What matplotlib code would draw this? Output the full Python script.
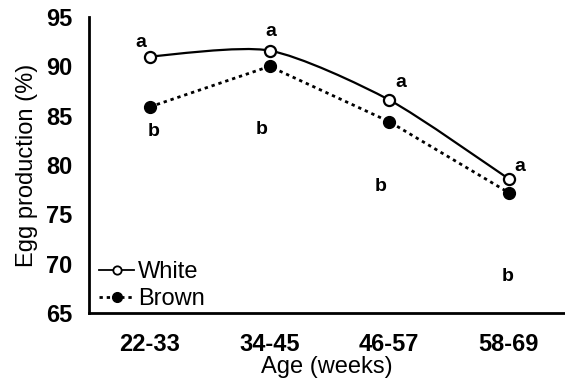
import matplotlib.pyplot as plt
from matplotlib.path import Path
from matplotlib.patches import PathPatch
from matplotlib.lines import Line2D

plt.rcParams['font.family'] = ['Liberation Sans', 'DejaVu Sans']

ages = ["22-33", "34-45", "46-57", "58-69"]
white = [91.0, 91.6, 86.6, 78.6]
brown = [85.9, 90.0, 84.4, 77.2]
# significance letters: x offset from category, y position, letter
white_dx = [-0.075, 0.01, 0.1, 0.09]
white_ly = [92.4, 93.5, 88.4, 79.9]
brown_dx = [0.03, -0.07, -0.07, -0.01]
brown_ly = [83.4, 83.6, 77.8, 68.7]

x = list(range(len(ages)))

fig = plt.figure(figsize=(5.65, 3.87), dpi=100)
ax = fig.add_axes([0.1575, 0.191, 0.8425, 0.765])

# smoothed line for White (spreadsheet-style Bezier through the points)
k = 1 / 8
verts = [(x[0], white[0])]
codes = [Path.MOVETO]
n = len(x)
for i in range(n - 1):
    p0 = (x[max(i - 1, 0)], white[max(i - 1, 0)])
    p1 = (x[i], white[i])
    p2 = (x[i + 1], white[i + 1])
    p3 = (x[min(i + 2, n - 1)], white[min(i + 2, n - 1)])
    c1 = (p1[0] + (p2[0] - p0[0]) * k, p1[1] + (p2[1] - p0[1]) * k)
    c2 = (p2[0] - (p3[0] - p1[0]) * k, p2[1] - (p3[1] - p1[1]) * k)
    verts += [c1, c2, p2]
    codes += [Path.CURVE4] * 3
ax.add_patch(PathPatch(Path(verts, codes), fill=False, edgecolor='black', lw=1.6))

ax.plot(x, brown, color='black', lw=2, linestyle=(0, (1.2, 1.4)))
ax.plot(x, white, linestyle='none', marker='o', markersize=8,
        markerfacecolor='white', markeredgecolor='black', markeredgewidth=1.6)
ax.plot(x, brown, linestyle='none', marker='o', markersize=8.5,
        markerfacecolor='black', markeredgecolor='black')

for i in x:
    ax.text(i + white_dx[i], white_ly[i], "a", ha='center', va='center',
            fontsize=14, fontweight='bold')
    ax.text(i + brown_dx[i], brown_ly[i], "b", ha='center', va='center',
            fontsize=14, fontweight='bold')

ax.set_xlim(-0.51, 3.47)
ax.set_ylim(65, 95)
ax.set_yticks([65, 70, 75, 80, 85, 90, 95])
ax.set_xticks(x)
ax.set_xticklabels(ages)
ax.tick_params(axis='x', length=0, labelsize=17, pad=14)
ax.tick_params(axis='y', length=0, labelsize=17, pad=12)
for lab in ax.get_xticklabels() + ax.get_yticklabels():
    lab.set_fontweight('bold')

ax.spines['top'].set_visible(False)
ax.spines['right'].set_visible(False)
ax.spines['left'].set_linewidth(2)
ax.spines['bottom'].set_linewidth(2)

ax.set_xlabel("Age (weeks)", fontsize=17, labelpad=0)
ax.set_ylabel("Egg production (%)", fontsize=17, labelpad=6)

handles = [
    Line2D([], [], color='black', lw=1.3, marker='o', markersize=6,
           markerfacecolor='white', markeredgecolor='black', markeredgewidth=1.3),
    Line2D([], [], color='black', lw=2, linestyle=(0, (1.2, 1.4)), marker='o',
           markersize=7, markerfacecolor='black'),
]
ax.legend(handles, ["White", "Brown"], loc='lower left', bbox_to_anchor=(0.012, -0.005),
          frameon=False, fontsize=17, handlelength=1.45, handletextpad=0.2,
          borderaxespad=0.0, borderpad=0.2, labelspacing=0.2)

fig.savefig("out.png", dpi=100)
